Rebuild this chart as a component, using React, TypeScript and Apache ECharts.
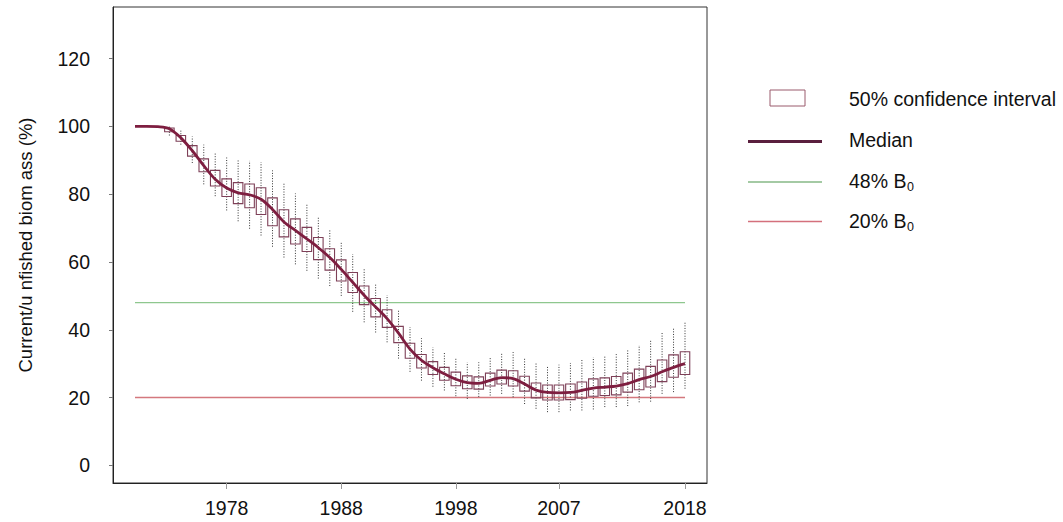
import React, { useEffect, useRef } from "react";
import * as echarts from "echarts";

const boxYears = [
  1973, 1974, 1975, 1976, 1977, 1978, 1979, 1980, 1981, 1982, 1983, 1984,
  1985, 1986, 1987, 1988, 1989, 1990, 1991, 1992, 1993, 1994, 1995, 1996,
  1997, 1998, 1999, 2000, 2001, 2002, 2003, 2004, 2005, 2006, 2007, 2008,
  2009, 2010, 2011, 2012, 2013, 2014, 2015, 2016, 2017, 2018,
];
const boxLow = [
  98.4, 95.6, 91.2, 86.6, 82.4, 79.3, 77.2, 76.0, 74.0, 70.7, 67.4, 65.3,
  63.1, 60.7, 57.6, 54.4, 51.0, 47.4, 43.8, 40.7, 36.2, 31.6, 28.7, 26.8,
  25.1, 23.5, 22.6, 22.5, 23.4, 24.0, 23.4, 21.9, 19.9, 19.3, 19.3, 19.4,
  19.8, 20.4, 20.6, 20.8, 21.6, 22.3, 23.1, 24.7, 26.0, 26.8,
];
const boxHigh = [
  99.5, 97.3, 94.3, 90.4, 87.0, 84.5, 83.4, 83.0, 81.9, 78.9, 75.4, 72.7,
  70.2, 67.2, 63.9, 60.6, 56.9, 52.9, 49.2, 45.9, 41.0, 36.0, 32.7, 30.6,
  28.9, 27.5, 26.4, 26.1, 27.2, 28.1, 27.9, 26.3, 24.3, 23.7, 23.7, 24.0,
  24.6, 25.5, 25.8, 26.2, 27.2, 28.4, 29.2, 31.1, 32.6, 33.5,
];
const whiskerLow = [
  97.3, 94.6, 89.2, 82.9, 79.4, 75.2, 72.0, 69.8, 67.8, 64.5, 61.3, 59.3,
  57.4, 55.1, 52.9, 50.0, 45.3, 42.2, 39.2, 36.3, 31.5, 27.6, 25.0, 23.2,
  22.1, 20.4, 19.6, 20.2, 20.6, 21.1, 20.1, 18.1, 16.7, 15.7, 15.7, 16.2,
  16.2, 16.5, 17.2, 17.2, 17.5, 18.6, 18.8, 21.1, 21.6, 22.6,
];
const whiskerHigh = [
  100.0, 99.0, 97.0, 94.6, 92.2, 90.8, 90.2, 89.8, 89.4, 87.0, 83.1, 80.2,
  77.0, 73.5, 69.6, 66.0, 62.3, 57.9, 53.7, 50.2, 45.8, 40.8, 37.5, 34.8,
  33.3, 31.6, 30.4, 30.4, 31.9, 33.1, 33.4, 31.6, 30.2, 29.4, 29.7, 30.2,
  31.4, 31.9, 32.4, 32.8, 34.3, 35.5, 37.0, 39.2, 40.7, 42.2,
];

const medianYears = [
  1970, 1971, 1972, 1973, 1974, 1975, 1976, 1977, 1978, 1979, 1980, 1981,
  1982, 1983, 1984, 1985, 1986, 1987, 1988, 1989, 1990, 1991, 1992, 1993,
  1994, 1995, 1996, 1997, 1998, 1999, 2000, 2001, 2002, 2003, 2004, 2005,
  2006, 2007, 2008, 2009, 2010, 2011, 2012, 2013, 2014, 2015, 2016, 2017,
  2018,
];
const medianValues = [
  100.0, 100.0, 99.9, 99.3, 96.6, 92.8, 88.4, 84.4, 81.8, 80.4, 79.8, 78.5,
  75.5, 71.8, 69.3, 66.8, 64.2, 61.3, 57.8, 54.0, 50.2, 46.7, 43.3, 39.0,
  34.3, 31.0, 28.8, 27.0, 25.4, 24.4, 24.2, 25.1, 25.9, 25.6, 24.0, 22.2,
  21.5, 21.4, 21.5, 22.1, 22.8, 23.1, 23.4, 24.1, 25.3, 26.2, 27.6, 28.9,
  30.0,
];

const refYears = [1970, 2018];
const targetLevel = 48;
const limitLevel = 20;

const xTickYears = [1978, 1988, 1998, 2007, 2018];
const yTickValues = [0, 20, 40, 60, 80, 100, 120];

const FONT = "'Liberation Sans', Arial, Helvetica, sans-serif";

export default function App() {
  const ref = useRef<HTMLDivElement>(null);

  useEffect(() => {
    document.body.style.margin = "0";
    if (!ref.current) return;
    const chart = echarts.init(ref.current, null, { renderer: "svg" });

    const boxData = boxYears.map((y, i) => [
      y,
      boxLow[i],
      boxHigh[i],
      whiskerLow[i],
      whiskerHigh[i],
    ]);

    const legendText = (text: string, x: number, y: number, size: number) => ({
      type: "text",
      x,
      y,
      style: {
        text,
        fontSize: size,
        fontFamily: FONT,
        fill: "#111",
        verticalAlign: "middle",
        align: "left",
      },
    });

    const option: any = {
      animation: false,
      backgroundColor: "#ffffff",
      grid: {
        left: 113,
        top: 7,
        right: 356,
        bottom: 39,
        show: true,
        borderColor: "#333",
        borderWidth: 1,
        backgroundColor: "transparent",
      },
      xAxis: {
        type: "value",
        min: 1968.08,
        max: 2019.92,
        axisLine: {
          show: true,
          onZero: false,
          lineStyle: { color: "#222", width: 1 },
        },
        axisTick: {
          show: true,
          length: 6,
          customValues: xTickYears,
          lineStyle: { color: "#999" },
        },
        axisLabel: {
          customValues: xTickYears,
          margin: 15,
          fontSize: 19.5,
          fontFamily: FONT,
          color: "#111",
          formatter: (v: number) => String(v),
        },
        splitLine: { show: false },
      },
      yAxis: {
        type: "value",
        min: -5.2,
        max: 135.2,
        name: "Current/u nfished biom ass (%)",
        nameLocation: "middle",
        nameRotate: 90,
        nameGap: 78,
        nameTextStyle: { fontSize: 18.5, fontFamily: FONT, color: "#111" },
        axisLine: {
          show: true,
          onZero: false,
          lineStyle: { color: "#222", width: 1 },
        },
        axisTick: {
          show: true,
          length: 4,
          customValues: yTickValues,
          lineStyle: { color: "#777" },
        },
        axisLabel: {
          customValues: yTickValues,
          margin: 23,
          fontSize: 19.5,
          fontFamily: FONT,
          color: "#111",
        },
        splitLine: { show: false },
      },
      series: [
        {
          type: "line",
          data: refYears.map((y) => [y, targetLevel]),
          showSymbol: false,
          lineStyle: { color: "#8ec78e", width: 1.4 },
          silent: true,
          z: 1,
        },
        {
          type: "line",
          data: refYears.map((y) => [y, limitLevel]),
          showSymbol: false,
          lineStyle: { color: "#d4787e", width: 1.4 },
          silent: true,
          z: 1,
        },
        {
          type: "custom",
          data: boxData,
          silent: true,
          z: 2,
          renderItem: (params: any, api: any) => {
            const x = api.value(0);
            const lo = api.coord([x, api.value(3)]);
            const hi = api.coord([x, api.value(4)]);
            const b1 = api.coord([x, api.value(1)]);
            const b2 = api.coord([x, api.value(2)]);
            const w = api.size([1, 0])[0] * 0.83;
            return {
              type: "group",
              children: [
                {
                  type: "line",
                  shape: { x1: lo[0], y1: lo[1], x2: hi[0], y2: hi[1] },
                  style: { stroke: "#333", lineWidth: 1, lineDash: [1, 1.6] },
                },
                {
                  type: "rect",
                  shape: {
                    x: b2[0] - w / 2,
                    y: b2[1],
                    width: w,
                    height: b1[1] - b2[1],
                  },
                  style: { fill: "none", stroke: "#7e4058", lineWidth: 1.1 },
                },
              ],
            };
          },
        },
        {
          type: "line",
          data: medianYears.map((y, i) => [y, medianValues[i]]),
          showSymbol: false,
          smooth: 0.35,
          lineStyle: { color: "#7e1e40", width: 2.8 },
          silent: true,
          z: 3,
        },
      ],
      graphic: [
        {
          type: "rect",
          shape: { x: 770, y: 90, width: 35, height: 16 },
          style: { fill: "none", stroke: "#9a5a6c", lineWidth: 1 },
        },
        legendText("50% confidence interval", 849, 99, 19.5),
        {
          type: "line",
          shape: { x1: 748, y1: 141.5, x2: 822, y2: 141.5 },
          style: { stroke: "#5a1f3e", lineWidth: 2.8 },
        },
        legendText("Median", 849, 140, 19.5),
        {
          type: "line",
          shape: { x1: 748, y1: 182, x2: 822, y2: 182 },
          style: { stroke: "#86b886", lineWidth: 1.4 },
        },
        legendText("48% B", 849, 181, 19.5),
        legendText("0", 907, 187, 12.5),
        {
          type: "line",
          shape: { x1: 748, y1: 221.5, x2: 822, y2: 221.5 },
          style: { stroke: "#d4707c", lineWidth: 1.4 },
        },
        legendText("20% B", 849, 220.5, 19.5),
        legendText("0", 907, 226.5, 12.5),
      ],
    };

    chart.setOption(option);
    return () => chart.dispose();
  }, []);

  return <div ref={ref} style={{ width: 1063, height: 522 }} />;
}
